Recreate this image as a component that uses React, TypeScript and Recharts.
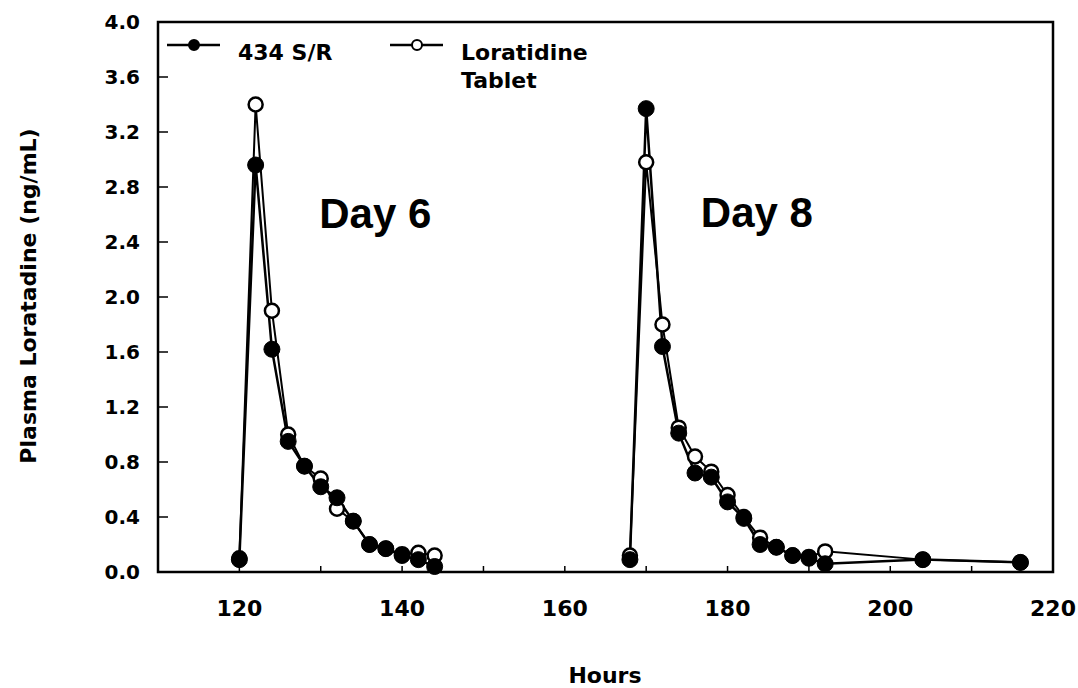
import { LineChart, Line, XAxis, YAxis, ReferenceArea, ReferenceDot } from 'recharts'

// hours after first dose
const day6Hours = [120, 122, 124, 126, 128, 130, 132, 134, 136, 138, 140, 142, 144]
const day6SR = [0.09, 2.96, 1.62, 0.95, 0.77, 0.62, 0.54, 0.37, 0.2, 0.17, 0.12, 0.09, 0.04]
const day6Tab = [0.1, 3.4, 1.9, 1.0, 0.77, 0.68, 0.46, 0.37, 0.2, 0.17, 0.13, 0.14, 0.12]

const day8Hours = [168, 170, 172, 174, 176, 178, 180, 182, 184, 186, 188, 190, 192, 204, 216]
const day8SR = [0.09, 3.37, 1.64, 1.01, 0.72, 0.69, 0.51, 0.39, 0.2, 0.18, 0.12, 0.1, 0.06, 0.09, 0.07]
const day8Tab = [0.12, 2.98, 1.8, 1.05, 0.84, 0.73, 0.56, 0.4, 0.25, 0.18, 0.12, 0.11, 0.15, 0.09, 0.07]

const xTicks = [110, 120, 130, 140, 150, 160, 170, 180, 190, 200, 210, 220]
const yTicks = [0, 0.4, 0.8, 1.2, 1.6, 2.0, 2.4, 2.8, 3.2, 3.6, 4.0]

const seriesNames = ['434 S/R', 'Loratidine\nTablet']
const dayLabels = [
  { text: 'Day 6', hour: 136.7, value: 2.61 },
  { text: 'Day 8', hour: 183.6, value: 2.62 },
]

const rows = [
  ...day6Hours.map((h, i) => ({ hour: h, sr: day6SR[i], tab: day6Tab[i] })),
  // gap between the two sampling days
  { hour: 156, sr: null, tab: null },
  ...day8Hours.map((h, i) => ({ hour: h, sr: day8SR[i], tab: day8Tab[i] })),
]

const font = 'DejaVu Sans, Arial, sans-serif'

function XTick({ x, y, payload }: any) {
  const v = payload.value
  return (
    <g>
      <line x1={x} x2={x} y1={y} y2={y - 6} stroke="#000" strokeWidth={1.5} />
      {v % 20 === 0 && (
        <text x={x} y={y + 44} textAnchor="middle" fontSize={22} fontWeight="bold" fontFamily={font} fill="#000">
          {v}
        </text>
      )}
    </g>
  )
}

function YTick({ x, y, payload }: any) {
  return (
    <g>
      <line x1={x} x2={x + 10} y1={y} y2={y} stroke="#000" strokeWidth={1.5} />
      <text x={x - 18} y={y} dy="0.36em" textAnchor="end" fontSize={20} fontWeight="bold" fontFamily={font} fill="#000">
        {payload.value.toFixed(1)}
      </text>
    </g>
  )
}

function LegendBox() {
  const items = [
    { x: 167, filled: true },
    { x: 390, filled: false },
  ]
  return (
    <svg width={640} height={100} style={{ position: 'absolute', left: 0, top: 0, pointerEvents: 'none' }}>
      {items.map((it, i) => (
        <g key={i}>
          <line x1={it.x} x2={it.x + 53} y1={45} y2={45} stroke="#000" strokeWidth={2.5} />
          <circle cx={it.x + 27} cy={45} r={5} fill={it.filled ? '#000' : '#fff'} stroke="#000" strokeWidth={2} />
          {seriesNames[i].split('\n').map((line, j) => (
            <text key={j} x={it.x + 71} y={52 + j * 28} dy="0.36em" fontSize={22} fontWeight="bold" fontFamily={font} fill="#000">
              {line}
            </text>
          ))}
        </g>
      ))}
    </svg>
  )
}

export default function App() {
  return (
    <div style={{ position: 'absolute', left: 0, top: 0, width: 1078, height: 688, background: '#fff' }}>
      <LineChart width={1078} height={688} data={rows} margin={{ top: 22, right: 25, bottom: 0, left: 0 }}>
        <XAxis
          dataKey="hour"
          type="number"
          domain={[110, 220]}
          ticks={xTicks}
          interval={0}
          tickSize={0}
          tickMargin={0}
          tickLine={false}
          tick={<XTick />}
          height={116}
          axisLine={{ stroke: '#000', strokeWidth: 2 }}
          label={{
            content: () => (
              <text x={605} y={675} dy="0.36em" textAnchor="middle" fontSize={22} fontWeight="bold" fontFamily={font} fill="#000">
                Hours
              </text>
            ),
          }}
        />
        <YAxis
          type="number"
          domain={[0, 4]}
          ticks={yTicks}
          interval={0}
          tickSize={0}
          tickMargin={0}
          tickLine={false}
          tick={<YTick />}
          width={158}
          axisLine={{ stroke: '#000', strokeWidth: 2 }}
          label={{
            content: () => (
              <text
                transform="translate(28,296) rotate(-90)"
                dy="0.36em"
                textAnchor="middle"
                fontSize={22}
                fontWeight="bold"
                fontFamily={font}
                fill="#000"
              >
                Plasma Loratadine (ng/mL)
              </text>
            ),
          }}
        />
        <ReferenceArea x1={110} x2={220} y1={0} y2={4} fill="none" stroke="#000" strokeWidth={2.5} />
        {dayLabels.map((d) => (
          <ReferenceDot
            key={d.text}
            x={d.hour}
            y={d.value}
            r={0}
            fill="none"
            stroke="none"
            label={{
              value: d.text,
              position: 'center',
              fontSize: 42,
              fontWeight: 'bold',
              fontFamily: 'Liberation Sans, Arial, sans-serif',
              fill: '#000',
            }}
          />
        ))}
        <Line
          dataKey="tab"
          stroke="#000"
          strokeWidth={2}
          dot={{ r: 7, fill: '#fff', stroke: '#000', strokeWidth: 2.5 }}
          activeDot={false}
          isAnimationActive={false}
        />
        <Line
          dataKey="sr"
          stroke="#000"
          strokeWidth={2.5}
          dot={{ r: 8, fill: '#000', stroke: '#000', strokeWidth: 1 }}
          activeDot={false}
          isAnimationActive={false}
        />
      </LineChart>
      <LegendBox />
    </div>
  )
}
